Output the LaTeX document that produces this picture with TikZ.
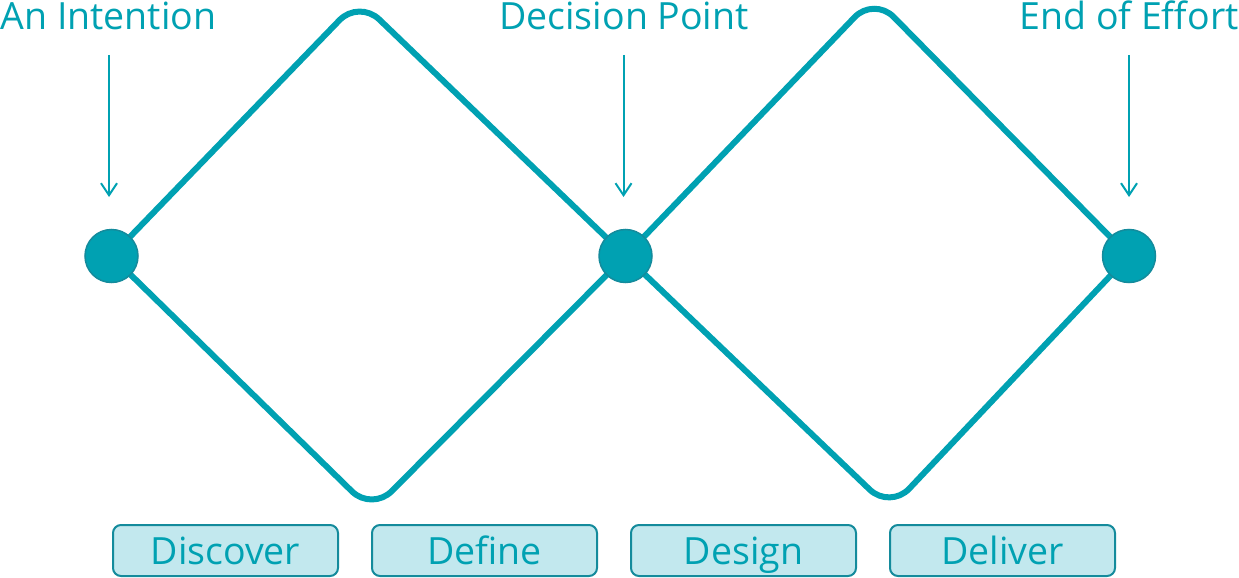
\documentclass[tikz,border=0pt]{standalone}
\usepackage{fontspec}
\setmainfont{Open Sans}
\usetikzlibrary{arrows.meta,backgrounds}
\definecolor{tealmain}{HTML}{00A1B2}
\definecolor{tealdark}{HTML}{148B9C}
\definecolor{tealpale}{HTML}{C2E8EE}
\begin{document}
\begin{tikzpicture}
  [x=1pt,y=-1pt,
   every node/.style={font=\fontsize{37.5}{41}\selectfont,text=tealmain},
   dot/.style={circle,fill=tealmain,draw=tealdark,line width=1.5pt,minimum size=53pt,inner sep=0pt},
   phase/.style={rectangle,rounded corners=8pt,fill=tealpale,draw=tealdark,line width=2pt,
     minimum width=225pt,minimum height=51pt,text height=27pt,text depth=0pt,inner sep=0pt},
   title/.style={anchor=base,inner sep=0pt},
   side/.style={draw=tealmain,line width=6pt,rounded corners=28pt},
   pointer/.style={draw=tealmain,line width=2pt,-{Straight Barb[length=12pt,width=16pt]}}]
  \useasboundingbox (0,0) rectangle (1239,578);
  % milestones
  \node[dot] (n1) at (111.5,256) {};
  \node[dot] (n2) at (625.5,256) {};
  \node[dot] (n3) at (1129,256) {};
  % corners of the diamonds
  \coordinate (t1) at (359,0);
  \coordinate (b1) at (372,511);
  \coordinate (t2) at (874,-3);
  \coordinate (b2) at (890,509);
  \begin{pgfonlayer}{background}
    \foreach \from/\via/\to in {n1/t1/n2,n1/b1/n2,n2/t2/n3,n2/b2/n3}
      \draw[side] (\from.center) -- (\via) -- (\to.center);
  \end{pgfonlayer}
  % titles and pointers
  \node[title] (l1) at (108.5,29.5) {An Intention};
  \node[title] (l2) at (624,29.5) {Decision Point};
  \node[title] (l3) at (1129,29.5) {End of Effort};
  \coordinate (p1) at (109,55);   \coordinate (q1) at (109,197);
  \coordinate (p2) at (623.5,55); \coordinate (q2) at (623.5,197);
  \coordinate (p3) at (1129,55);  \coordinate (q3) at (1129,197);
  \foreach \i in {1,2,3}
    \draw[pointer] (p\i) -- (q\i);
  % phases
  \node[phase] (s1) at (225.5,550.5) {Discover};
  \node[phase] (s2) at (484.5,550.5) {Define};
  \node[phase] (s3) at (743.5,550.5) {Design};
  \node[phase] (s4) at (1002.5,550.5) {Deliver};
\end{tikzpicture}
\end{document}
